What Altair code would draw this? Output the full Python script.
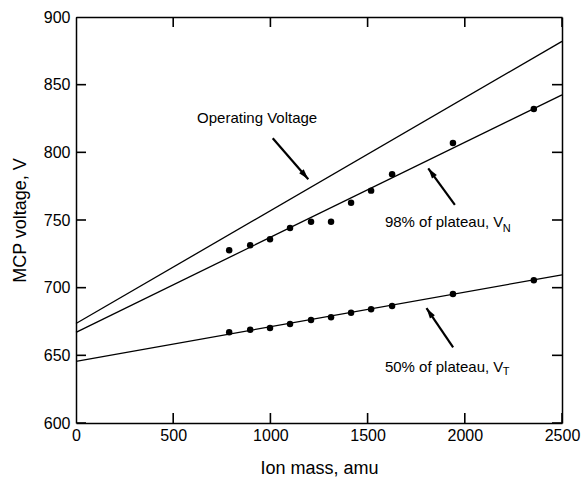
import math
import altair as alt
import pandas as pd

# ---- data ----
mass = [788, 896, 998, 1101, 1209, 1312, 1415, 1518, 1626, 1939, 2355]
v_n = [727.6, 731.3, 735.7, 744.1, 748.7, 748.7, 762.8, 771.7, 783.8, 806.9, 832.0]
v_t = [667.0, 668.9, 670.2, 673.2, 676.1, 678.1, 681.5, 684.0, 686.5, 695.4, 705.4]

line_names = ["Operating Voltage", "98% of plateau", "50% of plateau"]
line_m0 = [0, 0, 0]
line_m1 = [2500, 2500, 2500]
line_v0 = [673.5, 667.0, 645.5]
line_v1 = [882.0, 842.5, 709.5]

x_ticks = [0, 500, 1000, 1500, 2000, 2500]
y_ticks = [600, 650, 700, 750, 800, 850, 900]

ann_text = ["Operating Voltage", "98% of plateau, V", "50% of plateau, V"]
ann_m = [623, 1589, 1589]
ann_v = [825.4, 748.5, 641.4]
sub_text = ["N", "T"]
sub_m = [2195, 2195]
sub_v = [743.4, 637.7]

arr_m0 = [1012, 1949, 1940]
arr_v0 = [810.4, 761.1, 655.9]
arr_m1 = [1195, 1812, 1803]
arr_v1 = [780.1, 788.2, 684.8]

X_DOM = [0, 2500]
Y_DOM = [600, 900]
W, H = 486, 406
TICK = 10  # px
FONT = "Liberation Sans"

px_per_m = W / (X_DOM[1] - X_DOM[0])
px_per_v = H / (Y_DOM[1] - Y_DOM[0])

pts = pd.DataFrame({"mass": mass * 2, "v": v_n + v_t})
lines = pd.DataFrame({"name": line_names, "m0": line_m0, "m1": line_m1,
                      "v0": line_v0, "v1": line_v1})
ann = pd.DataFrame({"t": ann_text, "m": ann_m, "v": ann_v})
sub = pd.DataFrame({"t": sub_text, "m": sub_m, "v": sub_v})
xt = pd.DataFrame({"tx": x_ticks, "lo": [Y_DOM[0]] * len(x_ticks), "hi": [Y_DOM[1]] * len(x_ticks)})
yt = pd.DataFrame({"ty": y_ticks, "lo": [X_DOM[0]] * len(y_ticks), "hi": [X_DOM[1]] * len(y_ticks)})

angles = []
for a, b, c, d in zip(arr_m0, arr_v0, arr_m1, arr_v1):
    dx = (c - a) * px_per_m
    dy = -(d - b) * px_per_v
    angles.append(math.degrees(math.atan2(dx, -dy)) % 360)
arrows = pd.DataFrame({"m0": arr_m0, "v0": arr_v0, "m1": arr_m1, "v1": arr_v1,
                       "ang": angles})

xs = alt.Scale(domain=X_DOM, nice=False, zero=False)
ys = alt.Scale(domain=Y_DOM, nice=False, zero=False)

lab_common = dict(domainColor="black", domainWidth=1.5, ticks=False, grid=False,
                  labelFont=FONT, labelFontSize=16, labelColor="black",
                  titleFont=FONT, titleFontSize=18, titleColor="black",
                  titleFontWeight="normal", labelFlush=False)
x_bottom = alt.Axis(values=x_ticks, format="d", title="Ion mass, amu",
                    labelPadding=4, titlePadding=16, **lab_common)
y_left = alt.Axis(values=y_ticks, format="d", title="MCP voltage, V",
                  labelPadding=6, titlePadding=14, **lab_common)
x_top = alt.Axis(orient="top", values=x_ticks, labels=False, title=None, **lab_common)
y_right = alt.Axis(orient="right", values=y_ticks, labels=False, title=None, **lab_common)

points = alt.Chart(pts).mark_circle(color="black", opacity=1, size=42).encode(
    x=alt.X("mass:Q", scale=xs, axis=x_bottom),
    y=alt.Y("v:Q", scale=ys, axis=y_left),
)

fits = alt.Chart(lines).mark_rule(color="black", strokeWidth=1.3).encode(
    x=alt.X("m0:Q", scale=xs, axis=x_top),
    x2="m1:Q",
    y=alt.Y("v0:Q", scale=ys, axis=y_right),
    y2="v1:Q",
)

# inward ticks: tick marks centred on the frame; the outer half is clipped
tick_style = dict(color="black", opacity=1, thickness=1.6, size=2 * TICK, clip=True)
xt_lo = alt.Chart(xt).mark_tick(orient="vertical", **tick_style).encode(
    x=alt.X("tx:Q", scale=xs, axis=None), y=alt.Y("lo:Q", scale=ys, axis=None))
xt_hi = alt.Chart(xt).mark_tick(orient="vertical", **tick_style).encode(
    x=alt.X("tx:Q", scale=xs, axis=None), y=alt.Y("hi:Q", scale=ys, axis=None))
yt_lo = alt.Chart(yt).mark_tick(orient="horizontal", **tick_style).encode(
    y=alt.Y("ty:Q", scale=ys, axis=None), x=alt.X("lo:Q", scale=xs, axis=None))
yt_hi = alt.Chart(yt).mark_tick(orient="horizontal", **tick_style).encode(
    y=alt.Y("ty:Q", scale=ys, axis=None), x=alt.X("hi:Q", scale=xs, axis=None))

shafts = alt.Chart(arrows).mark_rule(color="black", strokeWidth=2.2).encode(
    x=alt.X("m0:Q", scale=xs, axis=None),
    x2="m1:Q",
    y=alt.Y("v0:Q", scale=ys, axis=None),
    y2="v1:Q",
)

heads = alt.Chart(arrows).mark_point(
    shape="M0,0L0.6,2.1L-0.6,2.1Z", filled=True, color="black", opacity=1,
    size=100, strokeWidth=0).encode(
    x=alt.X("m1:Q", scale=xs, axis=None),
    y=alt.Y("v1:Q", scale=ys, axis=None),
    angle=alt.Angle("ang:Q", scale=None),
)

texts = alt.Chart(ann).mark_text(align="left", baseline="middle", font=FONT,
                                 fontSize=15, color="black").encode(
    x=alt.X("m:Q", scale=xs, axis=None),
    y=alt.Y("v:Q", scale=ys, axis=None),
    text="t:N",
)

subs = alt.Chart(sub).mark_text(align="left", baseline="middle", font=FONT,
                                fontSize=11, color="black").encode(
    x=alt.X("m:Q", scale=xs, axis=None),
    y=alt.Y("v:Q", scale=ys, axis=None),
    text="t:N",
)

chart = alt.layer(points, fits, xt_lo, xt_hi, yt_lo, yt_hi,
                  shafts, heads, texts, subs).resolve_axis(
    x="independent", y="independent"
).properties(
    width=W, height=H,
    autosize=alt.AutoSizeParams(type="none"),
    padding={"left": 76, "top": 17, "right": 19, "bottom": 55},
    background="white",
).configure_view(stroke=None)

chart.save("out.html", embed_options={"renderer": "svg", "actions": False})
